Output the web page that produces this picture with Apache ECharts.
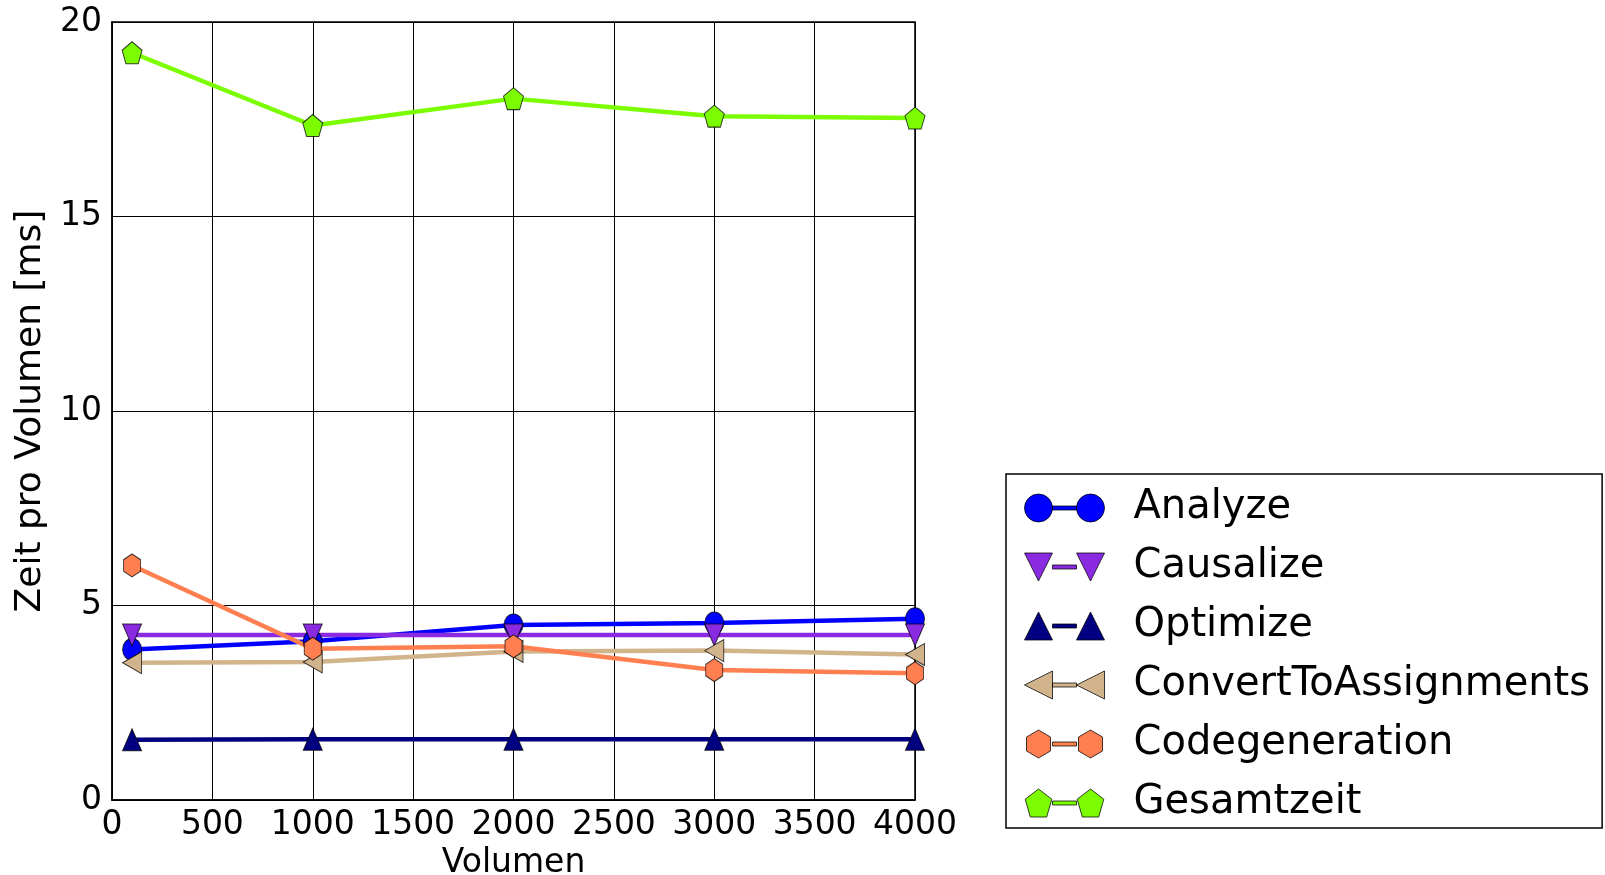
<!DOCTYPE html>
<html>
<head>
<meta charset="utf-8">
<script src="https://cdn.jsdelivr.net/npm/echarts@6/dist/echarts.min.js"></script>
<style>html,body{margin:0;padding:0;background:#fff;}#c{width:1605px;height:875px;}</style>
</head>
<body>
<div id="c"></div>
<script>
const volumen = [100, 1000, 2000, 3000, 4000];
const seriesNames = ['Analyze', 'Causalize', 'Optimize', 'ConvertToAssignments', 'Codegeneration', 'Gesamtzeit'];
const analyze = [3.87, 4.08, 4.50, 4.55, 4.66];
const causalize = [4.24, 4.24, 4.24, 4.24, 4.24];
const optimize = [1.55, 1.56, 1.56, 1.56, 1.56];
const convertToAssignments = [3.53, 3.55, 3.82, 3.84, 3.74];
const codegeneration = [6.03, 3.89, 3.95, 3.34, 3.26];
const gesamtzeit = [19.21, 17.34, 18.03, 17.58, 17.53];
const yTicks = [0, 5, 10, 15, 20];
const xTicks = [0, 500, 1000, 1500, 2000, 2500, 3000, 3500, 4000];

const colors = ['#0000ff', '#8a2be2', '#000080', '#d2b48c', '#ff7f50', '#7cfc00'];
const values = [analyze, causalize, optimize, convertToAssignments, codegeneration, gesamtzeit];

const symbols = [
  'circle',
  'path://M0,0L28,0L14,28Z',
  'triangle',
  'path://M0,14L28,0L28,28Z',
  'path://M14,0L26,7L26,21L14,28L2,21L2,7Z',
  'path://M14,0L27.3,10.2L22.2,26.3L5.8,26.3L0.7,10.2Z'
];
const bar = 'M28,12L52,12L52,16L28,16Z';
const legendIcons = [
  'path://M0,14A14,14 0 1,0 28,14A14,14 0 1,0 0,14Z' + bar + 'M52,14A14,14 0 1,0 80,14A14,14 0 1,0 52,14Z',
  'path://M0,0L28,0L14,28Z' + bar + 'M52,0L80,0L66,28Z',
  'path://M0,28L14,0L28,28Z' + bar + 'M52,28L66,0L80,28Z',
  'path://M0,14L28,0L28,28Z' + bar + 'M52,14L80,0L80,28Z',
  'path://M14,0L26,7L26,21L14,28L2,21L2,7Z' + bar + 'M66,0L78,7L78,21L66,28L54,21L54,7Z',
  'path://M14,0L27.3,10.2L22.2,28L5.8,28L0.7,10.2Z' + bar + 'M66,0L79.3,10.2L74.2,28L57.8,28L52.7,10.2Z'
];
const symbolSizes = [[19, 22], [19, 22], [19, 22], [19, 22], [17, 23], [20, 22]];

const font = 'DejaVu Sans';
const series = seriesNames.map((name, i) => ({
  name: name,
  type: 'line',
  data: volumen.map((x, j) => [x, values[i][j]]),
  symbol: symbols[i],
  symbolSize: symbolSizes[i],
  clip: false,
  lineStyle: { color: colors[i], width: 4.5 },
  itemStyle: { color: colors[i], borderColor: 'rgba(0,0,0,0.75)', borderWidth: 1 },
  emphasis: { disabled: true },
  animation: false
}));

const chart = echarts.init(document.getElementById('c'));
chart.setOption({
  backgroundColor: '#fff',
  animation: false,
  grid: { left: 112, right: 690, top: 22, bottom: 75, outerBoundsMode: 'none', containLabel: false,
    show: true, borderColor: '#000', borderWidth: 1.5, backgroundColor: 'transparent' },
  xAxis: {
    type: 'value', min: xTicks[0], max: xTicks[xTicks.length - 1], interval: 500,
    name: 'Volumen', nameLocation: 'middle', nameGap: 45,
    nameTextStyle: { fontFamily: font, fontSize: 33, color: '#000' },
    axisLine: { lineStyle: { color: '#000', width: 1.5 } },
    axisTick: { show: false },
    axisLabel: { fontFamily: font, fontSize: 33, color: '#000', margin: 9, showMinLabel: true, showMaxLabel: true,
      formatter: v => String(v) },
    splitLine: { show: true, lineStyle: { color: '#000', width: 1 } }
  },
  yAxis: {
    type: 'value', min: yTicks[0], max: yTicks[yTicks.length - 1], interval: 5,
    name: 'Zeit pro Volumen [ms]', nameLocation: 'middle', nameGap: 62,
    nameTextStyle: { fontFamily: font, fontSize: 36, color: '#000' },
    axisLine: { show: true, lineStyle: { color: '#000', width: 1.5 } },
    axisTick: { show: false },
    axisLabel: { fontFamily: font, fontSize: 33, color: '#000', margin: 10, formatter: v => String(v) },
    splitLine: { show: true, lineStyle: { color: '#000', width: 1 } }
  },
  legend: {
    orient: 'vertical', left: 1006, top: 474,
    width: 565,
    padding: [14, 12, 5, 18],
    itemWidth: 80, itemHeight: 28, itemGap: 19,
    borderColor: '#000', borderWidth: 1.5, backgroundColor: '#fff',
    selectedMode: false,
    data: seriesNames.map((n, i) => ({ name: n, icon: legendIcons[i] })),
    itemStyle: { borderColor: 'rgba(0,0,0,0.75)', borderWidth: 1 },
    textStyle: { fontFamily: font, fontSize: 40, color: '#000', padding: [0, 0, 0, 24] }
  },
  series: series
});
</script>
</body>
</html>
